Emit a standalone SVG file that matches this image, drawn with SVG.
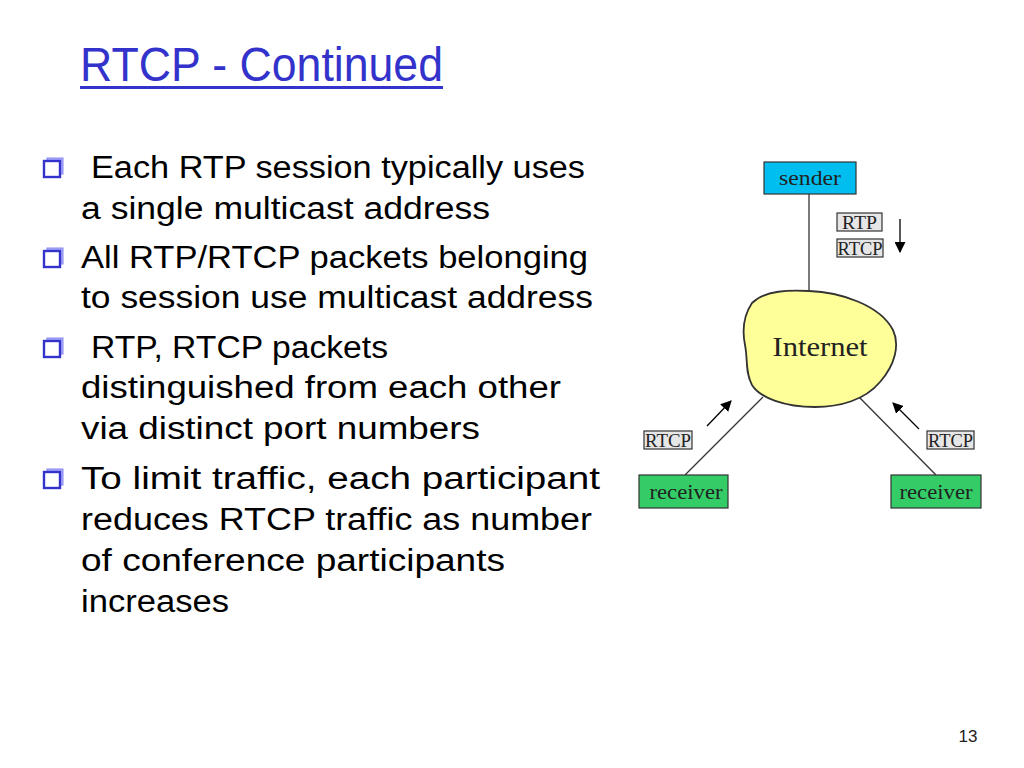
<svg xmlns="http://www.w3.org/2000/svg" width="1024" height="768" viewBox="0 0 1024 768">
<defs>
<style>
.title{font-family:"Comic Sans MS","Liberation Sans",sans-serif;font-size:49px;fill:#3333cc}
.body{font-family:"Comic Sans MS","Liberation Sans",sans-serif;font-size:31px;fill:#000}
.lbl{font-family:"Liberation Serif","Times New Roman",serif;fill:#222}
.tag{fill:#e6e6e6;stroke:#333;stroke-width:1.2}
.link{stroke:#333;stroke-width:1.3;fill:none}
.arr{stroke:#000;stroke-width:1.3;fill:none;marker-end:url(#ah)}
</style>
<marker id="ah" viewBox="0 0 10 10" refX="9" refY="5" markerWidth="11" markerHeight="11" markerUnits="userSpaceOnUse" orient="auto">
<path d="M0,0 L10,5 L0,10 Z" fill="#000"/>
</marker>
<g id="bul">
<rect x="3" y="-3" width="16" height="16" fill="#aaaaff" stroke="#8888ee" stroke-width="1"/>
<rect x="0" y="0" width="16" height="16" fill="#fff" stroke="#3333cc" stroke-width="2.4"/>
</g>
</defs>
<rect width="1024" height="768" fill="#fff"/>
<g id="title">
<text class="title" x="80" y="81" textLength="363" lengthAdjust="spacingAndGlyphs">RTCP - Continued</text>
<rect x="80" y="86" width="363" height="3" fill="#3333cc"/>
</g>
<g id="bullets">
<use href="#bul" x="44" y="161"/>
<use href="#bul" x="44" y="251"/>
<use href="#bul" x="44" y="341"/>
<use href="#bul" x="44" y="472"/>
<text class="body" x="91" y="178" textLength="494" lengthAdjust="spacingAndGlyphs">Each RTP session typically uses</text>
<text class="body" x="81" y="219" textLength="409" lengthAdjust="spacingAndGlyphs">a single multicast address</text>
<text class="body" x="81" y="268" textLength="507" lengthAdjust="spacingAndGlyphs">All RTP/RTCP packets belonging</text>
<text class="body" x="81" y="308" textLength="512" lengthAdjust="spacingAndGlyphs">to session use multicast address</text>
<text class="body" x="91" y="358" textLength="297" lengthAdjust="spacingAndGlyphs">RTP, RTCP packets</text>
<text class="body" x="81" y="398" textLength="480" lengthAdjust="spacingAndGlyphs">distinguished from each other</text>
<text class="body" x="81" y="439" textLength="399" lengthAdjust="spacingAndGlyphs">via distinct port numbers</text>
<text class="body" x="81" y="489" textLength="519" lengthAdjust="spacingAndGlyphs">To limit traffic, each participant</text>
<text class="body" x="81" y="530" textLength="511" lengthAdjust="spacingAndGlyphs">reduces RTCP traffic as number</text>
<text class="body" x="81" y="571" textLength="424" lengthAdjust="spacingAndGlyphs">of conference participants</text>
<text class="body" x="81" y="612" textLength="148" lengthAdjust="spacingAndGlyphs">increases</text>
</g>
<g id="connectors">
<line class="link" x1="809" y1="194" x2="809" y2="292"/>
<line class="link" x1="763" y1="397" x2="685" y2="475"/>
<line class="link" x1="859" y1="397" x2="936" y2="475"/>
<line class="arr" x1="900" y1="219" x2="900" y2="252"/>
<line class="arr" x1="707" y1="426" x2="731" y2="401"/>
<line class="arr" x1="919" y1="429" x2="893" y2="403"/>
</g>
<g id="internet">
<path d="M809,291 C840,292 880,305 893,330 C900,345 895,365 880,382 C865,400 840,407 815,407 C785,407 760,398 752,385 C745,372 748,360 745,345 C742,330 744,315 752,303 C765,290 790,290 809,291 Z" fill="#ffff99" stroke="#333" stroke-width="1.8"/>
<text class="lbl" x="820" y="356" font-size="27" text-anchor="middle" textLength="95" lengthAdjust="spacingAndGlyphs">Internet</text>
</g>
<g id="sender">
<rect x="764" y="162" width="92" height="32" fill="#00bff0" stroke="#333" stroke-width="1.2"/>
<text class="lbl" x="810" y="185" font-size="21" text-anchor="middle" textLength="62" lengthAdjust="spacingAndGlyphs">sender</text>
</g>
<g id="tag-rtp">
<rect class="tag" x="837" y="213" width="45" height="18"/>
<text class="lbl" x="859.5" y="229" font-size="18" text-anchor="middle" textLength="35" lengthAdjust="spacingAndGlyphs">RTP</text>
</g>
<g id="tag-rtcp-top">
<rect class="tag" x="837" y="239" width="46" height="18"/>
<text class="lbl" x="860" y="255" font-size="18" text-anchor="middle" textLength="45" lengthAdjust="spacingAndGlyphs">RTCP</text>
</g>
<g id="tag-rtcp-left">
<rect class="tag" x="644" y="431" width="48" height="18"/>
<text class="lbl" x="668" y="447" font-size="18" text-anchor="middle" textLength="46" lengthAdjust="spacingAndGlyphs">RTCP</text>
</g>
<g id="tag-rtcp-right">
<rect class="tag" x="927" y="431" width="47" height="18"/>
<text class="lbl" x="950.5" y="447" font-size="18" text-anchor="middle" textLength="45" lengthAdjust="spacingAndGlyphs">RTCP</text>
</g>
<g id="receiver-left">
<rect x="639" y="475" width="89" height="33" fill="#33cc66" stroke="#333" stroke-width="1.2"/>
<text class="lbl" x="686" y="499" font-size="21" text-anchor="middle" textLength="73" lengthAdjust="spacingAndGlyphs">receiver</text>
</g>
<g id="receiver-right">
<rect x="891" y="475" width="90" height="33" fill="#33cc66" stroke="#333" stroke-width="1.2"/>
<text class="lbl" x="936" y="499" font-size="21" text-anchor="middle" textLength="73" lengthAdjust="spacingAndGlyphs">receiver</text>
</g>
<text x="968" y="742" font-family="Liberation Sans, Arial, sans-serif" font-size="17" fill="#222" text-anchor="middle">13</text>
</svg>
